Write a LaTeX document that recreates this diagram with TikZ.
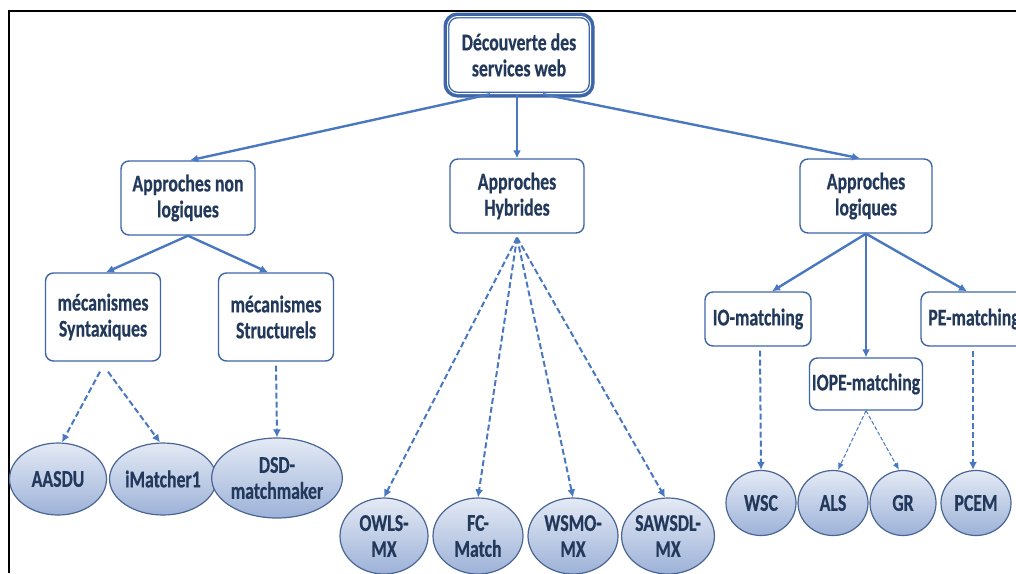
\documentclass[tikz,border=0pt]{standalone}
\usepackage{fontspec}
\setmainfont{Carlito}[FakeStretch=0.74, BoldFeatures={FakeBold=0.5}]
\usetikzlibrary{shapes.geometric,arrows.meta}
\definecolor{linkblue}{HTML}{4A78C0}
\definecolor{boxblue}{HTML}{3D66A8}
\definecolor{txtblue}{HTML}{23395B}
\definecolor{ovaltop}{HTML}{E4EAF5}
\definecolor{ovalbot}{HTML}{9DB2D8}
\definecolor{ovalline}{HTML}{4A6593}
\begin{document}
\begin{tikzpicture}[x=1pt,y=-1pt]
  \tikzstyle{every node}=[font=\fontsize{24}{26}\selectfont\bfseries, text=txtblue, align=center]
  \tikzstyle{box}=[rectangle, draw=boxblue, line width=1.4pt, rounded corners=8pt, fill=white, inner sep=2pt]
  \tikzstyle{topbox}=[box, preaction={draw=boxblue, line width=8pt}, line width=1.4pt, double=white, double distance=1pt, rounded corners=10pt]
  \tikzstyle{oval}=[ellipse, draw=ovalline, line width=1.2pt, top color=ovaltop, bottom color=ovalbot, inner sep=0pt]
  \tikzstyle{link}=[draw=linkblue, line width=2.4pt, -{Latex[length=8pt,width=8pt]}]
  \tikzstyle{dlink}=[link, line width=2pt, dash pattern=on 6pt off 3pt]
  \tikzstyle{tlink}=[link, line width=1pt, dash pattern=on 4pt off 2pt, -{Latex[length=7pt,width=6pt]}]
  \useasboundingbox (0,0) rectangle (1016,573);
  \draw[line width=1.4pt] (9,573) -- (9,11) -- (1016,11);

  \node[topbox, minimum width=143, minimum height=77] (root) at (519,55) {Découverte des\\services web};
  \node[box, minimum width=134, minimum height=74] (nonlog) at (188,198) {Approches non\\logiques};
  \node[box, minimum width=134, minimum height=74] (hybr) at (517,196) {Approches\\Hybrides};
  \node[box, minimum width=132, minimum height=74] (logiq) at (866,196) {Approches\\logiques};
  \node[box, minimum width=115, minimum height=88] (synt) at (103,317) {mécanismes\\Syntaxiques};
  \node[box, minimum width=115, minimum height=88] (struc) at (276,317) {mécanismes\\Structurels};
  \node[box, minimum width=106, minimum height=54] (iom) at (758,319) {IO-matching};
  \node[box, minimum width=106, minimum height=54] (pem) at (974,319) {PE-matching};
  \node[box, minimum width=113, minimum height=52] (iopem) at (866,384) {IOPE-matching};

  \node[oval, minimum width=97, minimum height=72] (aasdu) at (58,479) {AASDU};
  \node[oval, minimum width=97, minimum height=72] (imatch) at (163,479) {iMatcher1};
  \node[oval, minimum width=110, minimum height=80] (dsd) at (277,478) {DSD-\\matchmaker};
  \node[oval, minimum width=88, minimum height=76] (owls) at (384,536) {OWLS-\\MX};
  \node[oval, minimum width=90, minimum height=76] (fcm) at (478,536) {FC-\\Match};
  \node[oval, minimum width=90, minimum height=76] (wsmo) at (573,536) {WSMO-\\MX};
  \node[oval, minimum width=90, minimum height=76] (sawsdl) at (668,536) {SAWSDL-\\MX};
  \node[oval, minimum width=70, minimum height=65] (wsc) at (761,503) {WSC};
  \node[oval, minimum width=70, minimum height=65] (als) at (833,503) {ALS};
  \node[oval, minimum width=66, minimum height=65] (gr) at (903,503) {GR};
  \node[oval, minimum width=70, minimum height=65] (pcem) at (976,503) {PCEM};

  \draw[link] ([xshift=-29pt]root.south) -- ([xshift=2pt]nonlog.north);
  \draw[link] ([xshift=-2pt]root.south) -- (hybr.north);
  \draw[link] ([xshift=24pt]root.south) -- ([xshift=-6pt]logiq.north);
  \draw[link] (nonlog.south) -- ([xshift=3pt]synt.north);
  \draw[link] (nonlog.south) -- ([xshift=-8pt]struc.north);
  \draw[link] (logiq.south) -- ([xshift=14pt]iom.north);
  \draw[link] (logiq.south) -- (iopem.north);
  \draw[link] (logiq.south) -- ([xshift=-7pt]pem.north);

  \draw[dlink] ([xshift=-3pt,yshift=-10pt]synt.south) -- ([xshift=4pt]aasdu.north);
  \draw[dlink] ([xshift=5pt,yshift=-10pt]synt.south) -- ([xshift=-3pt]imatch.north);
  \draw[dlink] ([yshift=-4pt]struc.south) -- (dsd.north);
  \draw[dlink] ([yshift=-4pt]hybr.south) -- (owls.north);
  \draw[dlink] ([yshift=-4pt]hybr.south) -- (fcm.north);
  \draw[dlink] ([yshift=-4pt]hybr.south) -- (wsmo.north);
  \draw[dlink] ([yshift=-4pt]hybr.south) -- ([xshift=-3pt]sawsdl.north);
  \draw[dlink] ([xshift=2pt,yshift=-4pt]iom.south) -- (wsc.north);
  \draw[tlink] (iopem.south) -- ([xshift=5pt]als.north);
  \draw[tlink] (iopem.south) -- ([xshift=-4pt]gr.north);
  \draw[dlink] ([xshift=-1pt,yshift=-4pt]pem.south) -- ([xshift=-3pt]pcem.north);
\end{tikzpicture}
\end{document}
